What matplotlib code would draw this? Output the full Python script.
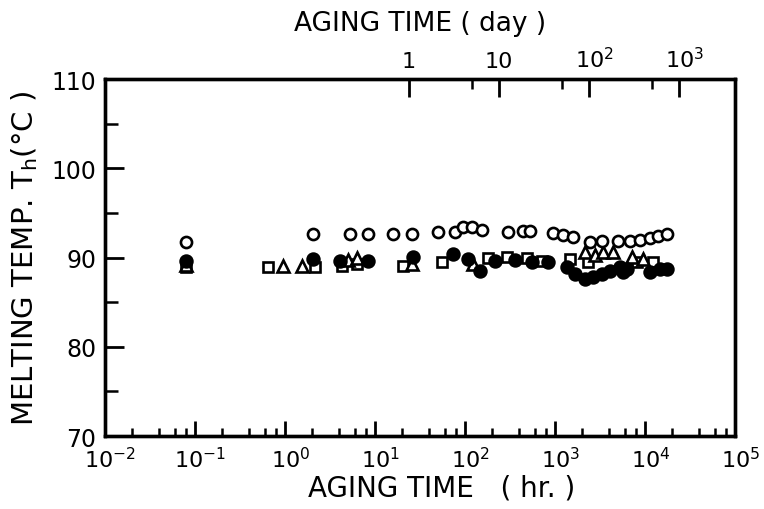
import matplotlib
matplotlib.use("Agg")
import matplotlib.pyplot as plt
from matplotlib.ticker import FixedLocator, NullFormatter
from matplotlib.transforms import ScaledTranslation

plt.rcParams["font.family"] = ["DejaVu Sans"]
plt.rcParams["mathtext.fontset"] = "dejavusans"

# aging time (hr) and melting temperature Th (deg C) for each sample series
open_t = [0.08, 2.05, 5.3, 8.4, 15.8, 25.8, 50, 77, 95, 120, 155, 300, 441, 527,
          950, 1227, 1585, 2449, 3327, 5012, 6813, 8800, 11370, 13940, 17550]
open_T = [91.8, 92.6, 92.6, 92.6, 92.6, 92.6, 92.9, 92.9, 93.4, 93.4, 93.1, 92.9,
          93.0, 93.0, 92.8, 92.5, 92.3, 91.7, 91.9, 91.9, 91.9, 92.0, 92.2, 92.4, 92.6]

filled_t = [0.08, 2.05, 4.08, 8.4, 26.4, 73.6, 108, 147, 215, 359, 555, 836,
            1360, 1668, 2154, 2643, 3327, 4084, 5275, 5700, 6310, 11370, 14680, 17550]
filled_T = [89.6, 89.8, 89.6, 89.6, 90.1, 90.4, 89.8, 88.5, 89.6, 89.7, 89.5, 89.5,
            88.9, 88.2, 87.6, 87.8, 88.2, 88.5, 88.9, 88.4, 88.7, 88.4, 88.7, 88.7]

square_t = [0.08, 0.65, 2.15, 4.3, 6.3, 20.5, 55.5, 180, 293, 489, 718, 1468,
            2327, 8150, 12270]
square_T = [88.9, 88.9, 88.9, 89.0, 89.3, 89.1, 89.5, 89.9, 90.1, 89.9, 89.6, 89.8,
            89.5, 89.5, 89.5]

tri_t = [0.08, 0.95, 1.55, 5.1, 6.3, 25.8, 123, 2154, 2783, 3415, 4404, 7180, 9500]
tri_T = [89.2, 89.1, 89.1, 89.7, 89.9, 89.3, 89.3, 90.6, 90.3, 90.6, 90.6, 90.1, 89.8]

x_decades = [-2, -1, 0, 1, 2, 3, 4, 5]
day_major = [1, 10, 100, 1000]
day_major_labels = ["1", "10", r"$10^2$", r"$10^3$"]
day_minor = [5, 50, 500]
y_major = [70, 80, 90, 100, 110]
y_minor = [75, 85, 95, 105]

fig = plt.figure(figsize=(7.64, 5.10), dpi=100)
ax = fig.add_axes([0.137, 0.143, 0.825, 0.700])

mk = dict(linestyle="none", markeredgecolor="black", markeredgewidth=1.9)
ax.plot(square_t, square_T, marker="s", markersize=7.5, markerfacecolor="white", zorder=3, **mk)
ax.plot(tri_t, tri_T, marker="^", markersize=8, markerfacecolor="white", zorder=3, **mk)
ax.plot(filled_t, filled_T, marker="o", markersize=8.5, markerfacecolor="black", zorder=4, **mk)
ax.plot(open_t, open_T, marker="o", markersize=8, markerfacecolor="white", zorder=5, **mk)

ax.set_xscale("log")
ax.set_xlim(10.0 ** x_decades[0], 10.0 ** x_decades[-1])
ax.set_ylim(y_major[0], y_major[-1])

ax.xaxis.set_major_locator(FixedLocator([10.0 ** d for d in x_decades]))
ax.set_xticklabels([r"$10^{%d}$" % d for d in x_decades])
minor_x = [m * 10.0 ** d for d in x_decades[:-1] for m in (2, 4, 6, 8)]
ax.xaxis.set_minor_locator(FixedLocator(minor_x))
ax.xaxis.set_minor_formatter(NullFormatter())

ax.yaxis.set_major_locator(FixedLocator(y_major))
ax.yaxis.set_minor_locator(FixedLocator(y_minor))
ax.set_yticklabels([str(v) for v in y_major])

ax.tick_params(axis="x", which="major", direction="in", length=11, width=2,
               labelsize=16, pad=7, top=False)
ax.tick_params(axis="x", which="minor", direction="in", length=6, width=1.8, top=False)
ax.tick_params(axis="y", which="major", direction="in", length=14, width=2,
               labelsize=17, pad=6, right=False)
ax.tick_params(axis="y", which="minor", direction="in", length=9, width=1.8, right=False)

# nudge power labels so the "10" sits over its tick, exponent to the right
shift = ScaledTranslation(4 / 72, 0, fig.dpi_scale_trans)
for lbl in ax.get_xticklabels():
    lbl.set_transform(lbl.get_transform() + shift)

for sp in ax.spines.values():
    sp.set_linewidth(2.4)

# upper axis in days
top = ax.twiny()
top.set_xscale("log")
top.set_xlim(10.0 ** x_decades[0] / 24.0, 10.0 ** x_decades[-1] / 24.0)
top.xaxis.set_major_locator(FixedLocator(day_major))
top.set_xticklabels(day_major_labels)
top.xaxis.set_minor_locator(FixedLocator(day_minor))
top.xaxis.set_minor_formatter(NullFormatter())
top.tick_params(axis="x", which="major", direction="in", length=13, width=2,
                labelsize=16, pad=6)
top.tick_params(axis="x", which="minor", direction="in", length=7, width=1.8)
for lbl, txt in zip(top.get_xticklabels(), day_major_labels):
    if "^" in txt:
        lbl.set_transform(lbl.get_transform() + shift)
for sp in top.spines.values():
    sp.set_linewidth(2.4)

ax.set_xlabel("AGING TIME   ( hr. )", fontsize=20)
ax.xaxis.set_label_coords(0.535, -0.105)
top.set_xlabel("AGING TIME ( day )", fontsize=19, labelpad=11)
ax.set_ylabel(r"MELTING TEMP. $\mathrm{T_h}$(°C )", fontsize=21, labelpad=8)

fig.savefig("out.png", dpi=100)
